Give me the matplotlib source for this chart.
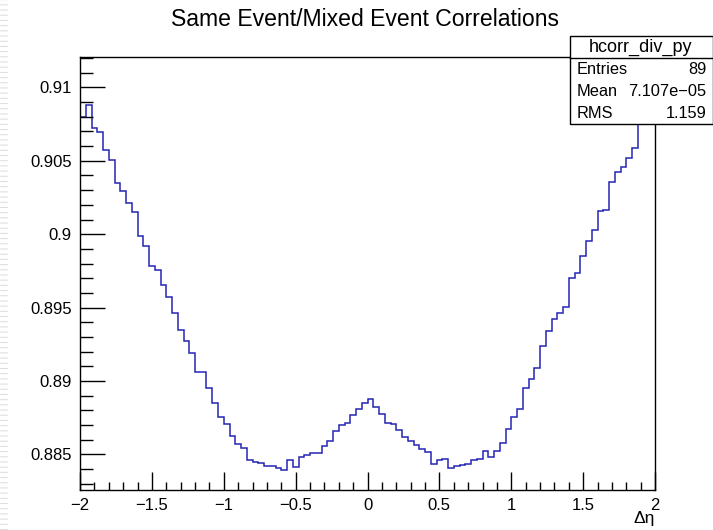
import numpy as np
import matplotlib
matplotlib.use("Agg")
import matplotlib.pyplot as plt
from matplotlib.patches import Rectangle
from matplotlib.lines import Line2D
from matplotlib.ticker import MultipleLocator, FuncFormatter

plt.rcParams['font.family'] = ['Liberation Sans', 'DejaVu Sans']

# ---- data ----
x_min, x_max, n_bins = -2.0, 2.0, 100
values = [
    0.90798, 0.90877, 0.90725, 0.90698, 0.90573, 0.90507, 0.90350, 0.90295, 0.90213, 0.90154,
    0.89990, 0.89920, 0.89784, 0.89759, 0.89656, 0.89574, 0.89465, 0.89349, 0.89270, 0.89190,
    0.89065, 0.89065, 0.88951, 0.88851, 0.88758, 0.88706, 0.88624, 0.88574, 0.88542, 0.88463,
    0.88451, 0.88440, 0.88422, 0.88420, 0.88409, 0.88392, 0.88463, 0.88413, 0.88481, 0.88494,
    0.88512, 0.88512, 0.88556, 0.88594, 0.88660, 0.88699, 0.88717, 0.88772, 0.88808, 0.88849,
    0.88877, 0.88822, 0.88775, 0.88717, 0.88706, 0.88665, 0.88622, 0.88592, 0.88563, 0.88535,
    0.88517, 0.88437, 0.88463, 0.88467, 0.88410, 0.88424, 0.88431, 0.88433, 0.88460, 0.88467,
    0.88524, 0.88483, 0.88524, 0.88578, 0.88672, 0.88758, 0.88810, 0.88956, 0.89013, 0.89092,
    0.89240, 0.89340, 0.89422, 0.89461, 0.89503, 0.89702, 0.89735, 0.89851, 0.89952, 0.90029,
    0.90161, 0.90166, 0.90357, 0.90422, 0.90461, 0.90520, 0.90589, 0.90820, 0.90930, 0.91070,
]
title = "Same Event/Mixed Event Correlations"
x_label = "Δη"
stats_name = "hcorr_div_py"
stats_rows = [("Entries", "89"), ("Mean", "7.107e\u221205"), ("RMS", "1.159")]
y_lo, y_hi = 0.88258, 0.91207

# ---- figure ----
W, H = 713, 530
fig = plt.figure(figsize=(W / 100, H / 100), dpi=100)
L, R, T, B = 80, 655, 57, 490
ax = fig.add_axes([L / W, 1 - B / H, (R - L) / W, (B - T) / H])

edges = np.linspace(x_min, x_max, n_bins + 1)
ax.stairs(values, edges, baseline=None, color='#2424b4', linewidth=1.1)

ax.set_xlim(x_min, x_max)
ax.set_ylim(y_lo, y_hi)

ax.xaxis.set_major_locator(MultipleLocator(0.5))
ax.xaxis.set_minor_locator(MultipleLocator(0.1))
ax.yaxis.set_major_locator(MultipleLocator(0.005))
ax.yaxis.set_minor_locator(MultipleLocator(0.001))

def fmt(v, pos):
    s = ("%.3f" % v).rstrip('0').rstrip('.')
    if s == "-0":
        s = "0"
    return s.replace('-', '\u2212')

ax.xaxis.set_major_formatter(FuncFormatter(fmt))
ax.yaxis.set_major_formatter(FuncFormatter(fmt))

ax.tick_params(axis='both', which='both', direction='in', top=False, right=False,
               labelsize=12, colors='black', width=1.0)
ax.tick_params(axis='y', which='major', length=18, pad=6)
ax.tick_params(axis='y', which='minor', length=9)
ax.tick_params(axis='x', which='major', length=13, pad=6)
ax.tick_params(axis='x', which='minor', length=6)
for sp in ax.spines.values():
    sp.set_linewidth(1.0)

fig.text(0.5 * (L + R) / W - 0.003, 1 - 20 / H, title, ha='center', va='center', fontsize=16.6)
fig.text(R / W, 1 - 518 / H, x_label, ha='right', va='center', fontsize=12.5)

# left-edge window artifact (thin gray dashes)
fig.add_artist(Line2D([4 / W, 4 / W], [0, 1], transform=fig.transFigure,
                      color='#dcdcdc', linewidth=5.5, dashes=(0.13, 0.55)))

# stats box
bx0, bx1, by0, by1, hdr = 569.5, 712.5, 36.5, 124, 58
fig.add_artist(Rectangle((bx0 / W, 1 - by1 / H), (bx1 - bx0) / W, (by1 - by0) / H,
                         transform=fig.transFigure, facecolor='white', edgecolor='black',
                         linewidth=1.0, zorder=10))
fig.add_artist(Line2D([bx0 / W, bx1 / W], [1 - hdr / H, 1 - hdr / H],
                      transform=fig.transFigure, color='black', linewidth=1.0, zorder=11))
fig.text((bx0 + bx1) / 2 / W, 1 - 47 / H, stats_name, ha='center', va='center',
         fontsize=13, zorder=12)
row_y = [70, 92, 114]
for (k, v), yy in zip(stats_rows, row_y):
    fig.text((bx0 + 7) / W, 1 - yy / H, k, ha='left', va='center', fontsize=11.8, zorder=12)
    fig.text((bx1 - 6) / W, 1 - yy / H, v, ha='right', va='center', fontsize=11.8, zorder=12)

fig.savefig("out.png", dpi=100)
